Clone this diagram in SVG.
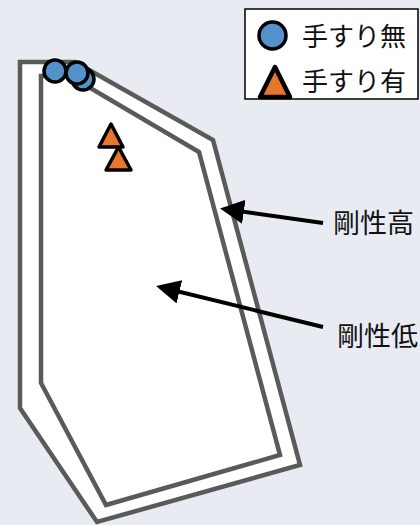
<svg xmlns="http://www.w3.org/2000/svg" width="420" height="525" viewBox="0 0 420 525">
<defs>
<style>
.wall{fill:#fff;stroke:#5a5a5a;stroke-width:4.5;stroke-linejoin:miter}
.c{fill:#5592cb;stroke:#000;stroke-width:3.5}
.t{fill:#e8772e;stroke:#000;stroke-width:3.5;stroke-linejoin:round}
.lt{stroke-width:4.5}
.lbl{font-family:"Noto Sans CJK JP",sans-serif;font-size:26px;fill:#111}
.big{font-size:27px}
.arr{stroke:#000;stroke-width:4;fill:none}
</style>
<marker id="ah" markerWidth="6" markerHeight="6" refX="5" refY="3" orient="auto" markerUnits="strokeWidth">
<path d="M0,0 L6,3 L0,6 Z" fill="#000"/>
</marker>
</defs>
<rect width="420" height="525" fill="#e8ebf1"/>
<g id="outer"><polygon class="wall" points="20,62 75,62 213,140 300,465 97,522 20,408"/></g>
<g id="inner"><polygon class="wall" points="41,76 70,76 199,152 280,455 106,505 41,383"/></g>
<g id="markers">
<circle class="c" cx="83" cy="79" r="11"/>
<circle class="c" cx="55" cy="71" r="11"/>
<circle class="c" cx="77" cy="73" r="11"/>
<polygon class="t" points="118.5,147 131,170 106,170"/>
<polygon class="t" points="111,124 123,147 99,147"/>
</g>
<g id="legend">
<rect x="245" y="9" width="173" height="90" fill="#fff" stroke="#000" stroke-width="1.5"/>
<circle class="c" cx="272.5" cy="35.5" r="13.5"/>
<text class="lbl" x="302" y="46">手すり無</text>
<polygon class="t lt" points="275,67 290,97 260,97"/>
<text class="lbl" x="302" y="91">手すり有</text>
</g>
<g id="connectors">
<line class="arr" x1="323" y1="223" x2="224" y2="209" marker-end="url(#ah)"/>
<line class="arr" x1="323" y1="327" x2="160" y2="287" marker-end="url(#ah)"/>
</g>
<g id="labels">
<text class="lbl big" x="333" y="233">剛性高</text>
<text class="lbl big" x="337" y="346">剛性低</text>
</g>
</svg>
